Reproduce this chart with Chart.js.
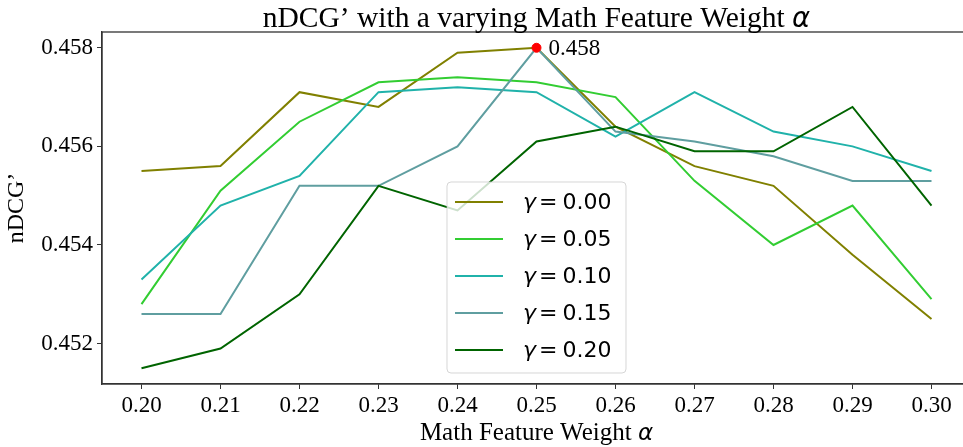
<!DOCTYPE html>
<html>
<head>
<meta charset="utf-8">
<script src="https://cdn.jsdelivr.net/npm/chart.js@4/dist/chart.umd.min.js"></script>
<style>
    html, body { margin: 0; padding: 0; overflow: hidden; background: #fff; }
    #wrap { position: relative; width: 1072px; height: 447px; }
</style>
</head>
<body>
<div id="wrap"><canvas id="chart_ndcg" width="1072" height="447"></canvas></div>
<script>
'use strict';

/******************************************************************************************
DATA
******************************************************************************************/

var alphas = [0.20, 0.21, 0.22, 0.23, 0.24, 0.25, 0.26, 0.27, 0.28, 0.29, 0.30];      // math feature weight
var yTicks = [0.452, 0.454, 0.456, 0.458];
var gammas = ['0.00', '0.05', '0.10', '0.15', '0.20'];

var ndcg_g000 = [0.4555, 0.4556, 0.4571, 0.4568, 0.4579, 0.4580, 0.4564, 0.4556, 0.4552, 0.4538, 0.4525];
var ndcg_g005 = [0.4528, 0.4551, 0.4565, 0.4573, 0.4574, 0.4573, 0.4570, 0.4553, 0.4540, 0.4548, 0.4529];
var ndcg_g010 = [0.4533, 0.4548, 0.4554, 0.4571, 0.4572, 0.4571, 0.4562, 0.4571, 0.4563, 0.4560, 0.4555];
var ndcg_g015 = [0.4526, 0.4526, 0.4552, 0.4552, 0.4560, 0.4580, 0.4563, 0.4561, 0.4558, 0.4553, 0.4553];
var ndcg_g020 = [0.4515, 0.4519, 0.4530, 0.4552, 0.4547, 0.4561, 0.4564, 0.4559, 0.4559, 0.4568, 0.4548];

var peakAlpha = 0.25;
var peakValue = 0.458;

var series = [ndcg_g000, ndcg_g005, ndcg_g010, ndcg_g015, ndcg_g020];
var colors = ['#808000', '#32cd32', '#20b2aa', '#5f9ea0', '#006400'];

var SERIF = "'Liberation Serif', 'DejaVu Serif', serif";
var SANS = "'DejaVu Sans', sans-serif";


/******************************************************************************************
PLUGIN: frame, title, x label, annotation, legend
******************************************************************************************/

function round_box(ctx, x, y, w, h, r) {
    ctx.beginPath();
    ctx.moveTo(x + r, y);
    ctx.lineTo(x + w - r, y);
    ctx.arcTo(x + w, y, x + w, y + r, r);
    ctx.lineTo(x + w, y + h - r);
    ctx.arcTo(x + w, y + h, x + w - r, y + h, r);
    ctx.lineTo(x + r, y + h);
    ctx.arcTo(x, y + h, x, y + h - r, r);
    ctx.lineTo(x, y + r);
    ctx.arcTo(x, y, x + r, y, r);
    ctx.closePath();
}

// draws serif text followed by an italic sans alpha, centered on cx
function draw_alpha_text(ctx, text, cx, y, size) {
    ctx.font = size + 'px ' + SERIF;
    var w1 = ctx.measureText(text).width;
    ctx.font = 'italic ' + (size - 2) + 'px ' + SANS;
    var w2 = ctx.measureText('α').width;
    var x0 = cx - (w1 + w2) / 2;
    ctx.fillStyle = '#000';
    ctx.textAlign = 'left';
    ctx.textBaseline = 'alphabetic';
    ctx.font = size + 'px ' + SERIF;
    ctx.fillText(text, x0, y);
    ctx.font = 'italic ' + (size - 2) + 'px ' + SANS;
    ctx.fillText('α', x0 + w1, y);
}

var decor_plugin = {
    id: 'decor',
    afterDatasetsDraw: function(chart) {
        var ctx = chart.ctx;
        var area = chart.chartArea;

        // legend, lower center
        var bw = 179, bh = 191;
        var bx = (area.left + area.right) / 2 - bw / 2;
        var by = area.bottom - 11 - bh;
        ctx.save();
        round_box(ctx, bx, by, bw, bh, 4);
        ctx.fillStyle = 'rgba(255,255,255,0.8)';
        ctx.fill();
        ctx.strokeStyle = 'rgba(204,204,204,0.8)';
        ctx.lineWidth = 1;
        ctx.stroke();

        for (var i = 0; i < gammas.length; i++) {
            var ry = by + 20 + i * 37;
            ctx.strokeStyle = colors[i];
            ctx.lineWidth = 2.2;
            ctx.beginPath();
            ctx.moveTo(bx + 8, ry);
            ctx.lineTo(bx + 56, ry);
            ctx.stroke();

            var tx = bx + 76;
            ctx.fillStyle = '#000';
            ctx.textBaseline = 'middle';
            ctx.textAlign = 'left';
            ctx.font = 'italic 22px ' + SANS;
            ctx.fillText('γ', tx, ry + 1);
            tx += ctx.measureText('γ').width + 3;
            ctx.font = '22px ' + SANS;
            ctx.fillText('=', tx, ry + 1);
            tx += ctx.measureText('=').width + 5;
            ctx.fillText(gammas[i], tx, ry + 1);
        }
        ctx.restore();
    },
    afterDraw: function(chart) {
        var ctx = chart.ctx;
        var area = chart.chartArea;
        ctx.save();

        // axes frame (top and right spines)
        ctx.strokeStyle = '#333';
        ctx.lineWidth = 1.3;
        ctx.strokeRect(area.left, area.top, area.right - area.left, area.bottom - area.top);

        // title and x label
        var cx = (area.left + area.right) / 2;
        draw_alpha_text(ctx, 'nDCG’ with a varying Math Feature Weight ', cx, 27, 29.5);
        draw_alpha_text(ctx, 'Math Feature Weight ', cx, 440, 25);

        // peak annotation
        var px = chart.scales.x.getPixelForValue(peakAlpha);
        var py = chart.scales.y.getPixelForValue(peakValue);
        ctx.fillStyle = '#000';
        ctx.font = '23px ' + SERIF;
        ctx.textAlign = 'left';
        ctx.textBaseline = 'middle';
        ctx.fillText(peakValue.toFixed(3), px + 12, py + 1);
        ctx.restore();
    }
};


/******************************************************************************************
CHART
******************************************************************************************/

var datasets = series.map(function(vals, i) {
    return {
        label: 'γ = ' + gammas[i],
        data: vals.map(function(v, j) { return { x: alphas[j], y: v }; }),
        borderColor: colors[i],
        backgroundColor: colors[i],
        borderWidth: 2,
        pointRadius: 0,
        tension: 0,
        order: 10 - i                                                       // later series on top
    };
});

datasets.push({
    label: 'peak',
    data: [{ x: peakAlpha, y: peakValue }],
    showLine: false,
    pointRadius: 4.5,
    pointBackgroundColor: '#ff0000',
    pointBorderColor: '#ff0000',
    order: 0
});

var ctx = document.getElementById('chart_ndcg').getContext('2d');
var ndcgChart = new Chart(ctx, {
    type: 'line',
    data: { datasets: datasets },
    plugins: [decor_plugin],
    options: {
        responsive: false,
        animation: false,
        layout: { padding: { left: 0, right: 101, top: 32, bottom: 0 } },
        plugins: {
            legend: { display: false },
            tooltip: { enabled: false },
            title: { display: false }
        },
        scales: {
            x: {
                type: 'linear',
                min: 0.195,
                max: 0.305,
                afterFit: function(scale) { scale.height = 63; },
                afterBuildTicks: function(scale) {
                    scale.ticks = alphas.map(function(v) { return { value: v }; });
                },
                grid: { drawOnChartArea: false, drawTicks: true, tickLength: 5, color: '#333' },
                border: { display: true, color: '#333', width: 1.3 },
                ticks: {
                    color: '#000',
                    padding: 3,
                    maxRotation: 0,
                    font: { family: SERIF, size: 23 },
                    callback: function(value) { return value.toFixed(2); }
                }
            },
            y: {
                type: 'linear',
                min: 0.45118,
                max: 0.45832,
                afterFit: function(scale) { scale.width = 102; },
                afterBuildTicks: function(scale) {
                    scale.ticks = yTicks.map(function(v) { return { value: v }; });
                },
                grid: { drawOnChartArea: false, drawTicks: true, tickLength: 5, color: '#333' },
                border: { display: true, color: '#333', width: 1.3 },
                ticks: {
                    color: '#000',
                    padding: 4,
                    font: { family: SERIF, size: 23 },
                    callback: function(value) { return value.toFixed(3); }
                },
                title: {
                    display: true,
                    text: 'nDCG’',
                    color: '#000',
                    font: { family: SERIF, size: 24 },
                    padding: { top: 2, bottom: 2 }
                }
            }
        }
    }
});
</script>
</body>
</html>
